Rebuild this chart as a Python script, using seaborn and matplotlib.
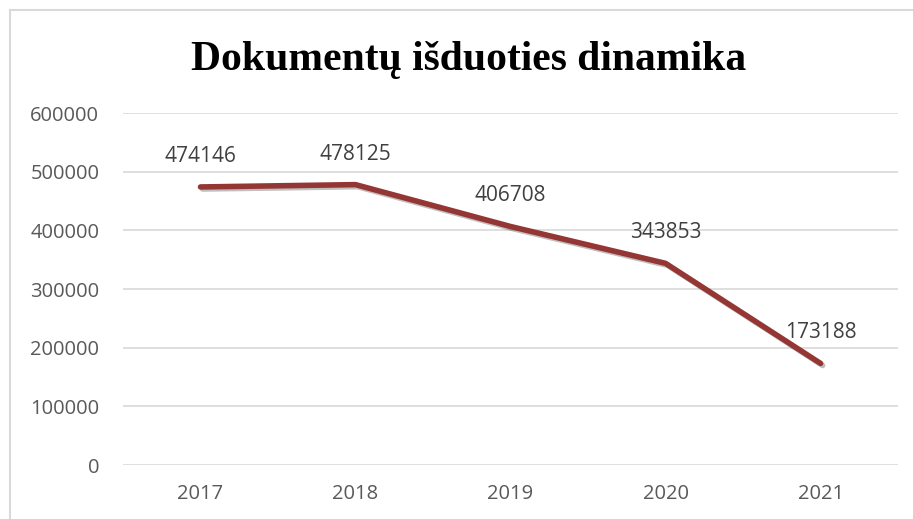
import matplotlib
matplotlib.use("Agg")
import matplotlib.pyplot as plt
import matplotlib.patheffects as pe
from matplotlib.patches import Rectangle
import pandas as pd
import seaborn as sns

years = ["2017", "2018", "2019", "2020", "2021"]
issued = [474146, 478125, 406708, 343853, 173188]
yticks = [0, 100000, 200000, 300000, 400000, 500000, 600000]

sns.set_style("white")
plt.rcParams["font.family"] = ["Open Sans", "DejaVu Sans"]

df = pd.DataFrame({"year": years, "issued": issued})

fig = plt.figure(figsize=(9.13, 5.19), dpi=100)
ax = fig.add_axes([0.1347, 0.104, 0.849, 0.678])

sns.lineplot(data=df, x="year", y="issued", ax=ax, color="#943634",
             linewidth=4.0, solid_capstyle="round", solid_joinstyle="round",
             path_effects=[pe.SimpleLineShadow(offset=(1.5, -1.5), alpha=0.25),
                           pe.Normal()])

# value labels above each point
for i, v in enumerate(issued):
    ax.annotate(str(v), (i, v), xytext=(0, 22), textcoords="offset points",
                ha="center", va="center", fontsize=15, color="#404040")

ax.set_xlim(-0.5, len(years) - 0.5)
ax.set_ylim(0, 600000)
ax.set_yticks(yticks)
ax.set_yticklabels([str(t) for t in yticks])
ax.yaxis.grid(True, color="#d9d9d9", linewidth=1.2)
ax.set_axisbelow(True)
for s in ax.spines.values():
    s.set_visible(False)
ax.tick_params(axis="both", length=0, labelsize=14.5, colors="#595959")
ax.tick_params(axis="y", pad=17)
ax.tick_params(axis="x", pad=14)
ax.set_xlabel("")
ax.set_ylabel("")

fig.text(0.513, 0.885, "Dokumentų išduoties dinamika", ha="center", va="center",
         fontsize=30, fontweight="bold", color="black",
         family=["Liberation Serif", "DejaVu Serif"])

fig.patches.append(Rectangle((10 / 913, -0.01), 1.0, 1 - 10 / 519 + 0.01,
                             transform=fig.transFigure, fill=False,
                             edgecolor="#d9d9d9", linewidth=1.5))

fig.savefig("out.png", dpi=100)
